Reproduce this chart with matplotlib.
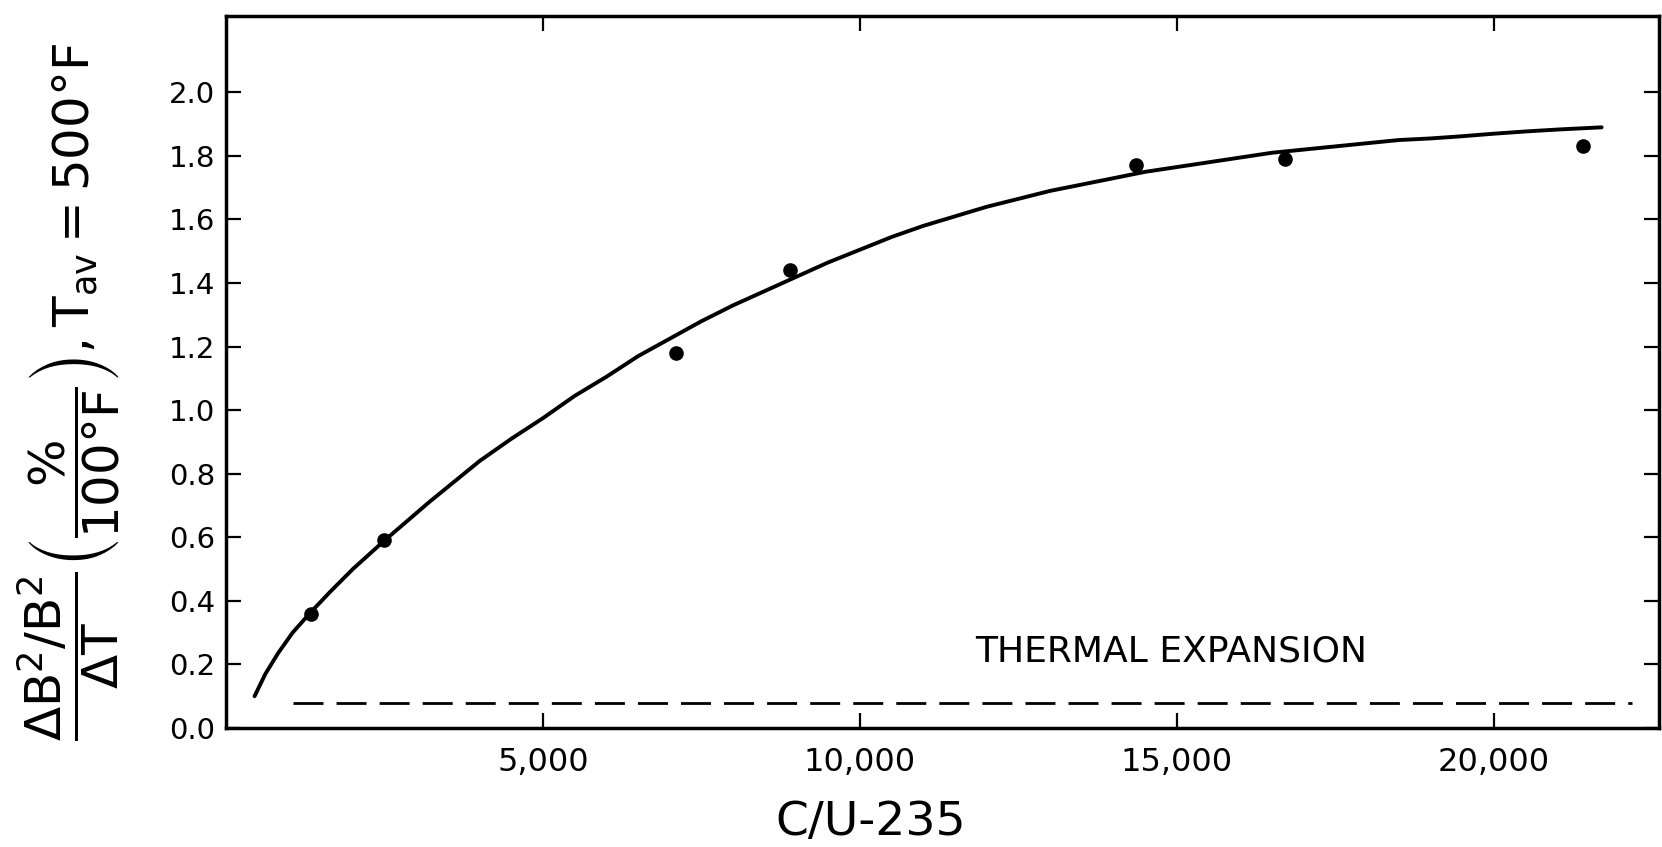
"""Temperature coefficient of buckling vs C/U-235 ratio, with thermal expansion line."""

import matplotlib

matplotlib.use("Agg")
import matplotlib.pyplot as plt

# measured points
cu_ratio = [1340, 2490, 7100, 8900, 14350, 16700, 21400]
coef_meas = [0.36, 0.59, 1.18, 1.44, 1.77, 1.79, 1.83]

# drawn smooth curve
curve_x = [450, 620, 820, 1050, 1340, 1650, 2000, 2250, 2500, 2850, 3200,
           3600, 4000, 4500, 5000, 5500, 6000, 6500, 7000, 7500, 8000, 8500,
           9000, 9500, 10000, 10500, 11000, 11500, 12000, 12500, 13000,
           13500, 14000, 14500, 15000, 15500, 16000, 16500, 17000, 17500,
           18000, 18500, 19000, 19500, 20000, 20500, 21000, 21700]
curve_y = [0.10, 0.17, 0.235, 0.30, 0.365, 0.43, 0.50, 0.545, 0.59, 0.65,
           0.71, 0.775, 0.84, 0.91, 0.975, 1.045, 1.105, 1.17, 1.225, 1.28,
           1.33, 1.375, 1.42, 1.465, 1.505, 1.545, 1.58, 1.61, 1.64, 1.665,
           1.69, 1.71, 1.73, 1.75, 1.765, 1.78, 1.795, 1.81, 1.82, 1.83,
           1.84, 1.85, 1.855, 1.862, 1.87, 1.877, 1.883, 1.89]

# thermal expansion contribution (dashed)
thermal_x = [1060, 22180]
thermal_y = [0.08, 0.08]

x_ticks = [5000, 10000, 15000, 20000]
x_labels = ["5,000", "10,000", "15,000", "20,000"]
y_ticks = [0.0, 0.2, 0.4, 0.6, 0.8, 1.0, 1.2, 1.4, 1.6, 1.8, 2.0]

plt.rcParams["font.family"] = ["DejaVu Sans"]
plt.rcParams["mathtext.fontset"] = "dejavusans"
plt.rcParams["mathtext.default"] = "regular"

fig = plt.figure(figsize=(16.62, 8.47), dpi=100)
ax = fig.add_axes([0.136, 0.1405, 0.862, 0.8405])

ax.plot(curve_x, curve_y, color="black", lw=2.8, solid_capstyle="round",
        solid_joinstyle="round")
ax.plot(cu_ratio, coef_meas, "o", color="black", ms=9.5)
ax.plot(thermal_x, thermal_y, color="black", lw=2.0,
        linestyle=(0, (10.8, 4.7)))

ax.text(11814, 0.21, "THERMAL EXPANSION", fontsize=26, va="baseline",
        ha="left")

ax.set_xlim(0, 22600)
ax.set_ylim(0, 2.24)
ax.set_xticks(x_ticks)
ax.set_xticklabels(x_labels)
ax.set_yticks(y_ticks)
ax.set_yticklabels([f"{v:.1f}" for v in y_ticks])

ax.tick_params(axis="both", which="major", direction="in", top=True,
               right=True, length=11, width=1.6, color="black")
ax.tick_params(axis="y", labelsize=21, pad=8)
ax.tick_params(axis="x", labelsize=23, pad=14)
for s in ax.spines.values():
    s.set_linewidth(2.5)

fig.text(0.524, 0.0295, "C/U-235", fontsize=34, ha="center", va="center")
fig.text(0.0415, 0.537,
         r"$\dfrac{\Delta B^2/B^2}{\Delta T}\left(\dfrac{\%}{100°F}\right), T_{av} = 500°F$",
         fontsize=36, rotation=90, ha="center", va="center")

fig.savefig("out.png", dpi=100)
